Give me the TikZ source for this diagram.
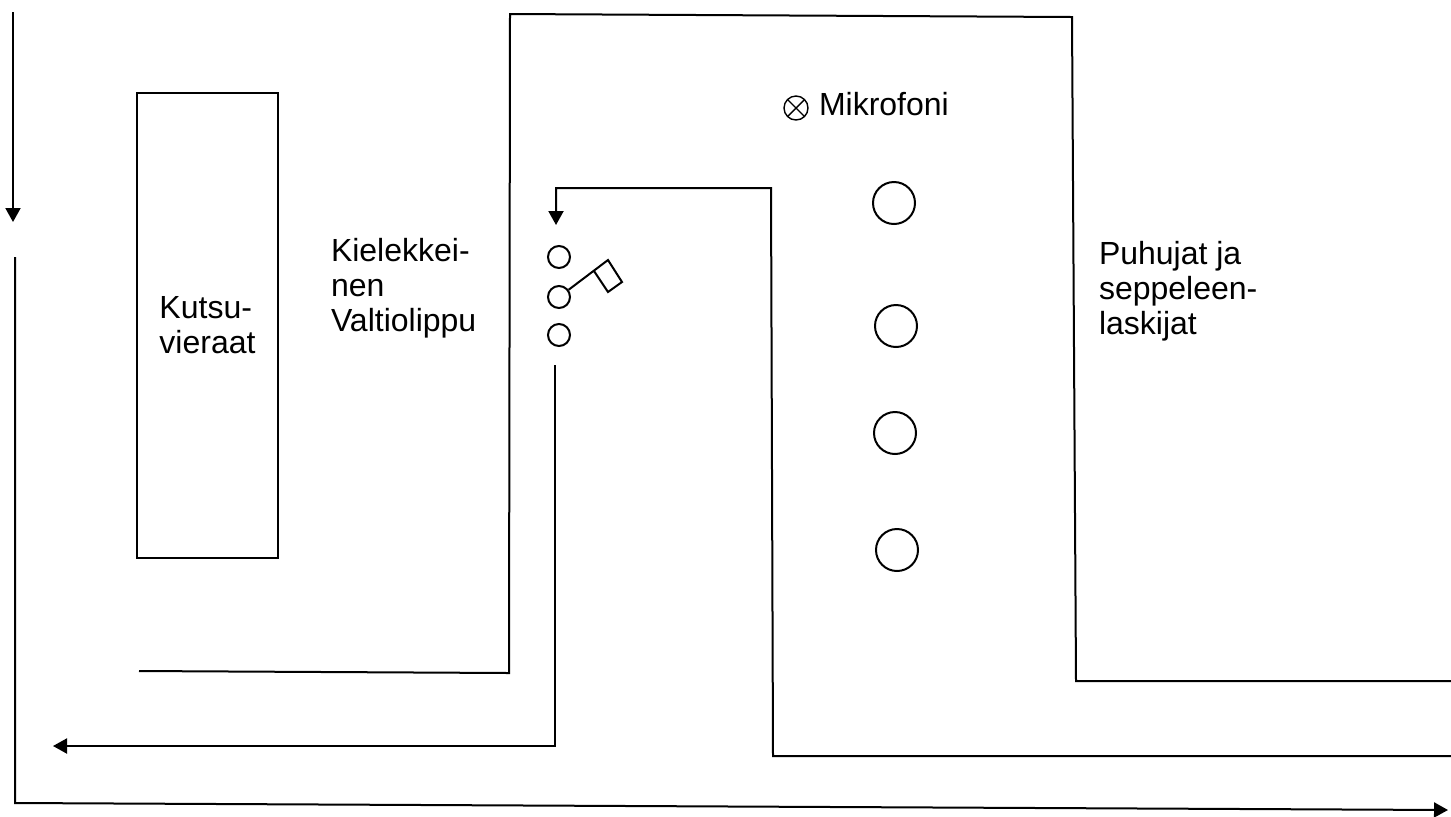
\documentclass[tikz,border=0pt]{standalone}
\usepackage{fontspec}
\setmainfont{Liberation Sans}
\usetikzlibrary{arrows.meta}

\begin{document}
\begin{tikzpicture}[x=0.5pt, y=-0.5pt, line width=1pt,
    >={Triangle[width=7.5pt,length=7pt]},
    txt/.style={anchor=base west, align=left, inner sep=0pt, font=\fontsize{16}{17.5}\selectfont},
    seats/.style={draw, minimum width=70.5pt, minimum height=232.5pt, inner sep=0pt, align=left, font=\fontsize{16}{17.5}\selectfont},
    pole/.style={draw, circle, minimum size=11pt, inner sep=0pt},
    wreath/.style={draw, circle, minimum size=21pt, inner sep=0pt},
    mic/.style={draw, circle, minimum size=12pt, inner sep=0pt, line width=0.7pt,
      path picture={\draw[line width=0.7pt] (path picture bounding box.north west) -- (path picture bounding box.south east)
        (path picture bounding box.north east) -- (path picture bounding box.south west);}}]
    \useasboundingbox (0,0) rectangle (1451,816);
    \node[seats] (guests) at (207.5,325.5) {Kutsu-\\vieraat};
    % base anchor sits on the last line
    \node[txt] (flagtxt) at (330,331) {Kielekkei-\\nen\\Valtiolippu};
    \node[txt] (speakers) at (1098,334) {Puhujat ja\\seppeleen-\\laskijat};
    \node[mic] (mic) at (796,108) {};
    \node[txt] (mictxt) at (818,115) {Mikrofoni};
    \node[wreath] (w1) at (894,203) {};
    \node[wreath] (w2) at (896,326) {};
    \node[wreath] (w3) at (895,433) {};
    \node[wreath] (w4) at (897,550) {};
    \node[pole] (p1) at (559,257) {};
    \node[pole] (p2) at (559,297) {};
    \node[pole] (p3) at (559,335) {};
    % flag
    \coordinate (ftop) at (608,260);
    \path[draw] (p2.37) -- (ftop) -- (622,282) -- (608,292) -- (594,271);
    % walls
    \path[draw] (139,671) -- (509,673) -- (510,14) -- (1072,17) -- (1076,681) -- (1451,681);
    % routes
    \path[draw, ->] (13,12) -- (13,222);
    \path[draw, ->] (15,257) -- (15,803) -- (1448,810);
    \path[draw, ->] (1451,756) -- (773,756) -- (771,188) -- (556,188) -- (556,225);
    \path[draw, ->] (555,365) -- (555,746) -- (53,746);
\end{tikzpicture}
\end{document}
